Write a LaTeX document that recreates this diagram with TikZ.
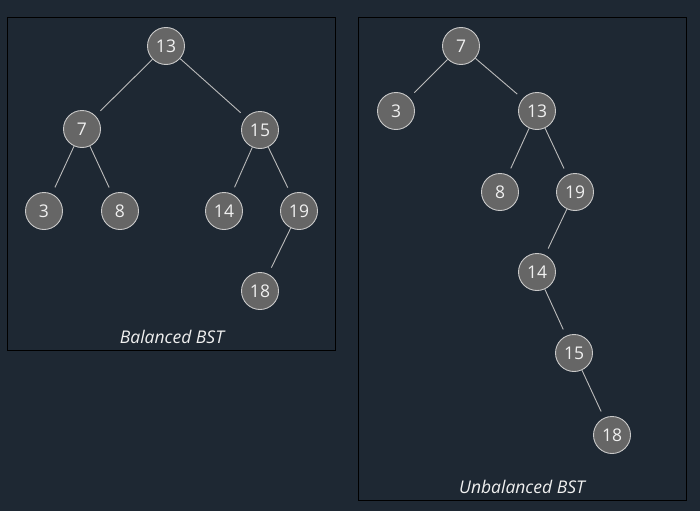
\documentclass[tikz,border=0pt]{standalone}
\usepackage{fontspec}
\setmainfont{Open Sans}
\begin{document}
\begin{tikzpicture}[x=1pt,y=-1pt]
\definecolor{bgc}{HTML}{1E2833}
\definecolor{nodefill}{HTML}{666666}
\definecolor{nodeline}{HTML}{C8C8C8}
\definecolor{nodetext}{HTML}{F0F0F0}
\definecolor{edgec}{HTML}{BBBBBB}
\tikzset{
  bstnode/.style={circle, fill=nodefill, draw=nodeline, line width=0.9pt, minimum size=37pt, inner sep=0pt, text=nodetext, font=\fontsize{17.5}{19}\selectfont},
  edge/.style={draw=edgec, line width=0.9pt, shorten >=7pt},
  panel/.style={draw=black, line width=1pt},
  caption/.style={text=nodetext, font=\fontsize{17.5}{19}\selectfont\itshape, inner sep=0pt}
}
\fill[bgc] (0,0) rectangle (700,511);
\draw[panel] (7.5,17.5) rectangle (335.5,350.5);
\draw[panel] (358.5,17.5) rectangle (686.5,500.5);
% Balanced
\node[bstnode] (a13) at (166,46) {13};
\node[bstnode] (a7) at (82,129) {7};
\node[bstnode] (a15) at (260,130) {15};
\node[bstnode] (a3) at (44,211) {3};
\node[bstnode] (a8) at (120,211) {8};
\node[bstnode] (a14) at (224,211) {14};
\node[bstnode] (a19) at (299,211) {19};
\node[bstnode] (a18) at (260,291) {18};
\draw[edge] (a13) -- (a7);
\draw[edge] (a13) -- (a15);
\draw[edge] (a7) -- (a3);
\draw[edge] (a7) -- (a8);
\draw[edge] (a15) -- (a14);
\draw[edge] (a15) -- (a19);
\draw[edge] (a19) -- (a18);
\node[caption] (capa) at (172,337) {Balanced BST};
% Unbalanced
\node[bstnode] (b7) at (461,46) {7};
\node[bstnode] (b3) at (396,111) {3};
\node[bstnode] (b13) at (537,111) {13};
\node[bstnode] (b8) at (500,192) {8};
\node[bstnode] (b19) at (575,192) {19};
\node[bstnode] (b14) at (537,272) {14};
\node[bstnode] (b15) at (574,353) {15};
\node[bstnode] (b18) at (612,435) {18};
\draw[edge] (b7) -- (b3);
\draw[edge] (b7) -- (b13);
\draw[edge] (b13) -- (b8);
\draw[edge] (b13) -- (b19);
\draw[edge] (b19) -- (b14);
\draw[edge] (b14) -- (b15);
\draw[edge] (b15) -- (b18);
\node[caption] (capb) at (522,487) {Unbalanced BST};
\end{tikzpicture}
\end{document}
